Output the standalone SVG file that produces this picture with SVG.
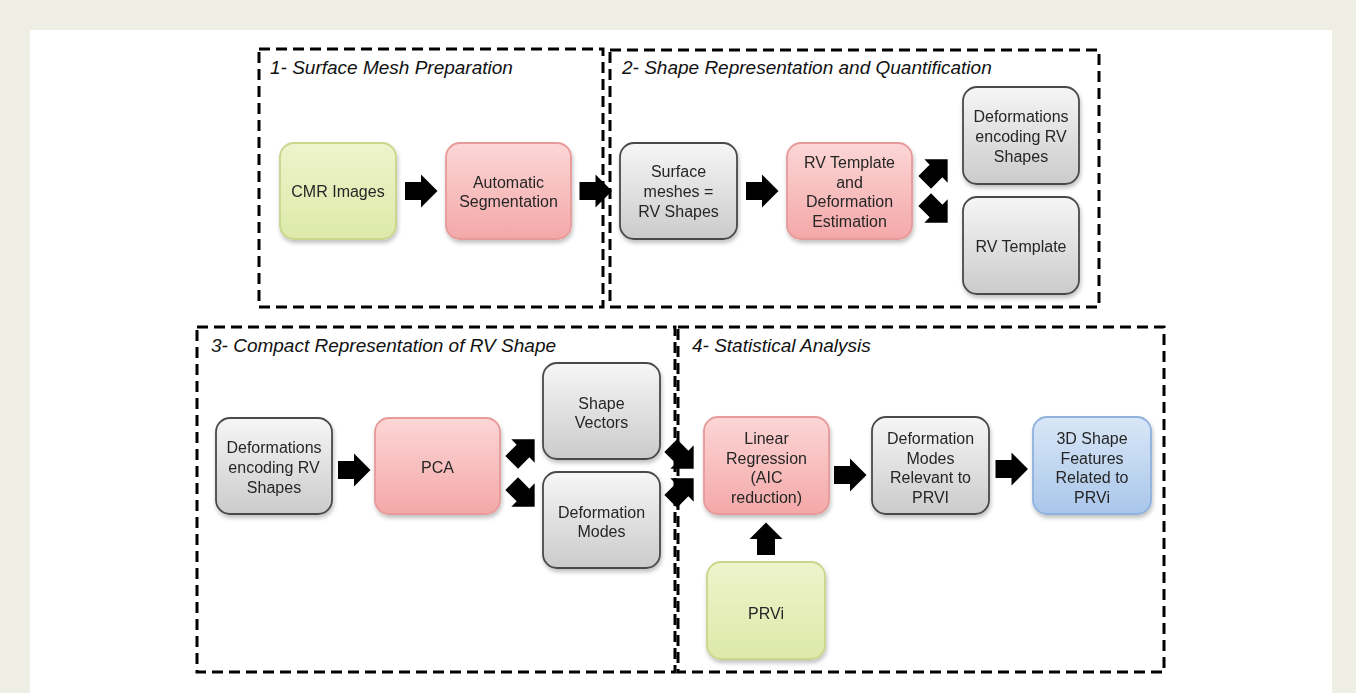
<svg xmlns="http://www.w3.org/2000/svg" width="1356" height="693" viewBox="0 0 1356 693">
<style>
.frame{fill:none;stroke:#000;stroke-width:3;stroke-dasharray:11 6}
.title{font-family:"Liberation Sans",Arial,sans-serif;font-style:italic;font-size:19px;fill:#111}
.lbl{font-family:"Liberation Sans",Arial,sans-serif;font-size:16px;fill:#262626;text-anchor:middle}
.node{stroke-width:1.8}
.green{fill:url(#gGreen);stroke:#c8d78a}
.pink{fill:url(#gPink);stroke:#e79a9a}
.gray{fill:url(#gGray);stroke:#4a4a4a}
.blue{fill:url(#gBlue);stroke:#8eb1dd}
.arrow{fill:#000}
</style>
<defs>
<linearGradient id="gGreen" x1="0" y1="0" x2="0" y2="1"><stop offset="0" stop-color="#eef4cc"/><stop offset="1" stop-color="#dde9a9"/></linearGradient>
<linearGradient id="gPink" x1="0" y1="0" x2="0" y2="1"><stop offset="0" stop-color="#fcd6d6"/><stop offset="1" stop-color="#f4a8a8"/></linearGradient>
<linearGradient id="gGray" x1="0" y1="0" x2="0" y2="1"><stop offset="0" stop-color="#f6f6f6"/><stop offset="1" stop-color="#cbcbcb"/></linearGradient>
<linearGradient id="gBlue" x1="0" y1="0" x2="0" y2="1"><stop offset="0" stop-color="#d9e7f7"/><stop offset="1" stop-color="#a9c6ea"/></linearGradient>
<filter id="sh" x="-10%" y="-10%" width="130%" height="130%"><feGaussianBlur in="SourceAlpha" stdDeviation="2"/><feOffset dx="1" dy="3" result="b"/><feComponentTransfer><feFuncA type="linear" slope="0.25"/></feComponentTransfer><feMerge><feMergeNode/><feMergeNode in="SourceGraphic"/></feMerge></filter>
<path id="arr" d="M-16,-9 H0 V-16.5 L16.5,0 L0,16.5 V9 H-16 Z"/>
</defs>
<rect x="0" y="0" width="1356" height="693" fill="#eeeee4"/>
<rect x="30" y="30" width="1302" height="663" fill="#ffffff"/>

<g id="frames">
<rect class="frame" x="259" y="49" width="344" height="258"/>
<rect class="frame" x="610" y="50" width="489" height="257"/>
<rect class="frame" x="197" y="327" width="478" height="345"/>
<rect class="frame" x="678" y="327" width="486" height="345"/>
<text class="title" x="270" y="74">1- Surface Mesh Preparation</text>
<text class="title" x="622" y="74">2- Shape Representation and Quantification</text>
<text class="title" x="211" y="352">3- Compact Representation of RV Shape</text>
<text class="title" x="692" y="352">4- Statistical Analysis</text>
</g>

<g id="connectors" class="arrow">
<use href="#arr" transform="translate(421,191)"/>
<use href="#arr" transform="translate(595.5,191)"/>
<use href="#arr" transform="translate(762,191)"/>
<use href="#arr" transform="translate(936,171) rotate(-45)"/>
<use href="#arr" transform="translate(936,211) rotate(45)"/>
<use href="#arr" transform="translate(354,470)"/>
<use href="#arr" transform="translate(523,451) rotate(-45)"/>
<use href="#arr" transform="translate(523,495) rotate(45)"/>
<use href="#arr" transform="translate(682,457) rotate(45)"/>
<use href="#arr" transform="translate(682,490) rotate(-45)"/>
<use href="#arr" transform="translate(850,475)"/>
<use href="#arr" transform="translate(1011.5,469)"/>
<use href="#arr" transform="translate(766,539) rotate(-90)"/>
</g>

<g id="n1" filter="url(#sh)"><rect class="node green" x="280" y="143" width="116" height="96" rx="14"/><text class="lbl" x="338" y="197">CMR Images</text></g>
<g id="n2" filter="url(#sh)"><rect class="node pink" x="446" y="143" width="125" height="96" rx="14"/><text class="lbl" x="508.5" y="188">Automatic</text><text class="lbl" x="508.5" y="207">Segmentation</text></g>
<g id="n3" filter="url(#sh)"><rect class="node gray" x="620" y="143" width="117" height="96" rx="14"/><text class="lbl" x="678.5" y="177">Surface</text><text class="lbl" x="678.5" y="197">meshes =</text><text class="lbl" x="678.5" y="217">RV Shapes</text></g>
<g id="n4" filter="url(#sh)"><rect class="node pink" x="787" y="143" width="125" height="96" rx="14"/><text class="lbl" x="849.5" y="168">RV Template</text><text class="lbl" x="849.5" y="187.5">and</text><text class="lbl" x="849.5" y="207">Deformation</text><text class="lbl" x="849.5" y="226.5">Estimation</text></g>
<g id="n5" filter="url(#sh)"><rect class="node gray" x="963" y="87" width="116" height="97" rx="14"/><text class="lbl" x="1021" y="122">Deformations</text><text class="lbl" x="1021" y="142">encoding RV</text><text class="lbl" x="1021" y="162">Shapes</text></g>
<g id="n6" filter="url(#sh)"><rect class="node gray" x="963" y="197" width="116" height="97" rx="14"/><text class="lbl" x="1021" y="252">RV Template</text></g>
<g id="n7" filter="url(#sh)"><rect class="node gray" x="216" y="418" width="116" height="96" rx="14"/><text class="lbl" x="274" y="453">Deformations</text><text class="lbl" x="274" y="473">encoding RV</text><text class="lbl" x="274" y="493">Shapes</text></g>
<g id="n8" filter="url(#sh)"><rect class="node pink" x="375" y="418" width="125" height="96" rx="14"/><text class="lbl" x="437.5" y="473">PCA</text></g>
<g id="n9" filter="url(#sh)"><rect class="node gray" x="543" y="363" width="117" height="96" rx="14"/><text class="lbl" x="601.5" y="409">Shape</text><text class="lbl" x="601.5" y="428">Vectors</text></g>
<g id="n10" filter="url(#sh)"><rect class="node gray" x="543" y="472" width="117" height="96" rx="14"/><text class="lbl" x="601.5" y="518">Deformation</text><text class="lbl" x="601.5" y="537">Modes</text></g>
<g id="n11" filter="url(#sh)"><rect class="node pink" x="704" y="417" width="125" height="97" rx="14"/><text class="lbl" x="766.5" y="444">Linear</text><text class="lbl" x="766.5" y="463.5">Regression</text><text class="lbl" x="766.5" y="483">(AIC</text><text class="lbl" x="766.5" y="502.5">reduction)</text></g>
<g id="n12" filter="url(#sh)"><rect class="node gray" x="872" y="417" width="117" height="97" rx="14"/><text class="lbl" x="930.5" y="444">Deformation</text><text class="lbl" x="930.5" y="463.5">Modes</text><text class="lbl" x="930.5" y="483">Relevant to</text><text class="lbl" x="930.5" y="502.5">PRVI</text></g>
<g id="n13" filter="url(#sh)"><rect class="node blue" x="1033" y="417" width="118" height="97" rx="14"/><text class="lbl" x="1092" y="444">3D Shape</text><text class="lbl" x="1092" y="463.5">Features</text><text class="lbl" x="1092" y="483">Related to</text><text class="lbl" x="1092" y="502.5">PRVi</text></g>
<g id="n14" filter="url(#sh)"><rect class="node green" x="707" y="562" width="118" height="97" rx="14"/><text class="lbl" x="766" y="619">PRVi</text></g>
</svg>
